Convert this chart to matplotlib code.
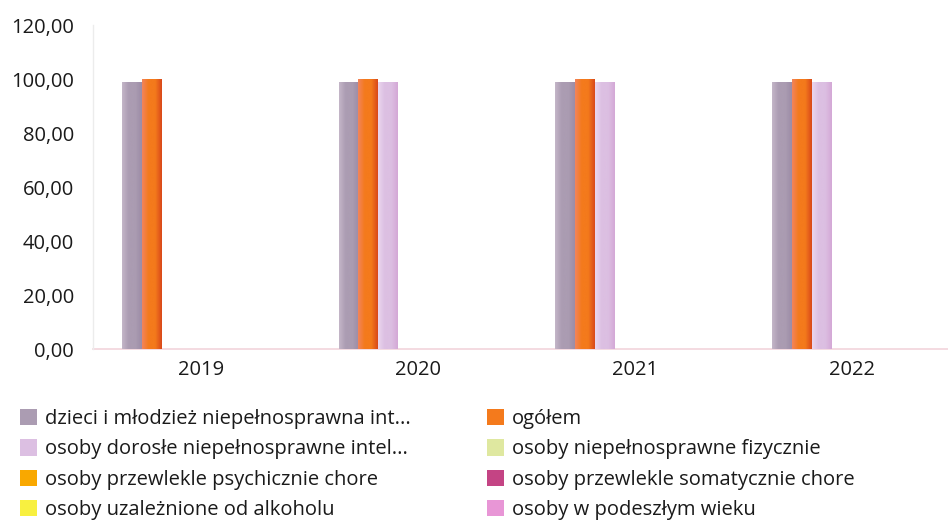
import numpy as np
import matplotlib
matplotlib.use("Agg")
import matplotlib.pyplot as plt
from matplotlib.patches import Patch
from matplotlib.colors import LinearSegmentedColormap
from matplotlib.ticker import FuncFormatter

plt.rcParams['font.family'] = ['Open Sans', 'DejaVu Sans']

# ---- data -------------------------------------------------------------
years = ["2019", "2020", "2021", "2022"]
series_names = [
    "dzieci i młodzież niepełnosprawna int...",
    "ogółem",
    "osoby dorosłe niepełnosprawne intel...",
    "osoby niepełnosprawne fizycznie",
    "osoby przewlekle psychicznie chore",
    "osoby przewlekle somatycznie chore",
    "osoby uzależnione od alkoholu",
    "osoby w podeszłym wieku",
]
dzieci = [98.9, 98.9, 98.9, 98.9]
ogolem = [100.0, 100.0, 100.0, 100.0]
dorosle = [0.0, 98.9, 98.9, 98.9]
fizycznie = [0.0, 0.0, 0.0, 0.0]
psychicznie = [0.0, 0.0, 0.0, 0.0]
somatycznie = [0.0, 0.0, 0.0, 0.0]
alkohol = [0.0, 0.0, 0.0, 0.0]
podeszly = [0.0, 0.0, 0.0, 0.0]
values = [dzieci, ogolem, dorosle, fizycznie, psychicznie, somatycznie, alkohol, podeszly]
y_ticks = [0, 20, 40, 60, 80, 100, 120]

# shading per series: left edge, middle, right edge
shades = [
    ("#c4b6c8", "#ab9cb2", "#9c8ca6"),
    ("#f2845c", "#f47a1c", "#d9481a"),
    ("#ead6ee", "#dcbfe2", "#d4a8d6"),
    ("#eef2b8", "#dfe8a0", "#cfdc88"),
    ("#fcc030", "#f9a800", "#e88c00"),
    ("#d86898", "#c44484", "#a8306c"),
    ("#fcf880", "#f8f040", "#ece020"),
    ("#f2b8e4", "#e896d6", "#d878c4"),
]
legend_order = [0, 2, 4, 6, 1, 3, 5, 7]

# ---- figure -----------------------------------------------------------
W, H, DPI = 948, 521, 100
PT = 72 / DPI  # points per pixel
fig = plt.figure(figsize=(W / DPI, H / DPI), dpi=DPI)
ax = fig.add_axes([93 / W, 172 / H, (960 - 93) / W, (496 - 172) / H])

n = len(series_names)
x = np.arange(len(years))
group_w = 0.734
bw = group_w / n

for i, (vals, sh) in enumerate(zip(values, shades)):
    offs = x - group_w / 2 + bw * (i + 0.5)
    bars = ax.bar(offs, vals, width=bw, color=sh[1], linewidth=0, zorder=2)
    cmap = LinearSegmentedColormap.from_list(f"s{i}", [sh[0], sh[1], sh[1], sh[2]])
    grad = np.linspace(0, 1, 64).reshape(1, -1)
    for b in bars:
        h = b.get_height()
        if h <= 0:
            continue
        x0 = b.get_x()
        im = ax.imshow(grad, cmap=cmap, aspect="auto",
                       extent=(x0, x0 + b.get_width(), 0, h),
                       interpolation="bicubic", zorder=3)
        im.set_clip_path(b)

ax.set_xlim(-0.5, len(years) - 0.5)
ax.set_ylim(0, 120)
ax.set_xticks(x)
ax.set_xticklabels(years)
ax.set_yticks(y_ticks)
ax.yaxis.set_major_formatter(FuncFormatter(lambda v, p: f"{v:.2f}".replace(".", ",")))
ax.tick_params(axis="both", length=0, labelsize=14.5, colors="#1a1a1a")
ax.tick_params(axis="y", pad=19 * PT)
ax.tick_params(axis="x", pad=11 * PT)

for s in ("top", "right"):
    ax.spines[s].set_visible(False)
ax.spines["left"].set_color("#ececec")
ax.spines["left"].set_linewidth(1.0)
ax.spines["bottom"].set_color("#f2d4dc")
ax.spines["bottom"].set_linewidth(1.2)
ax.spines["bottom"].set_zorder(1)

# ---- legend (two stacked columns) -------------------------------------
handles = [Patch(facecolor=shades[i][1], edgecolor="none") for i in range(n)]
cols = [legend_order[:4], legend_order[4:]]
anchors = [(20 / W, 1 - 409 / H), (487 / W, 1 - 409 / H)]
for col, anc in zip(cols, anchors):
    fig.legend([handles[i] for i in col], [series_names[i] for i in col],
               loc="upper left", bbox_to_anchor=anc, frameon=False,
               fontsize=14.5, handlelength=0.85, handleheight=0.85,
               handletextpad=0.4, labelspacing=0.52, borderpad=0,
               borderaxespad=0, labelcolor="#1a1a1a")

fig.savefig("out.png", dpi=DPI)
